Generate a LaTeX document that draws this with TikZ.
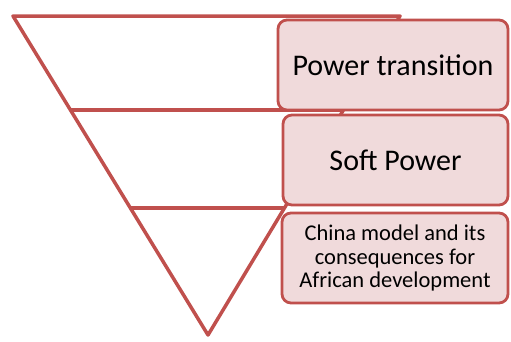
\documentclass[tikz,border=0pt]{standalone}
\usepackage{fontspec}
\setmainfont{Carlito}
\usetikzlibrary{calc}
\definecolor{tierred}{RGB}{192,80,77}
\definecolor{tierfill}{RGB}{240,218,219}
\begin{document}
\begin{tikzpicture}[x=1pt,y=-1pt,inner sep=0pt,outer sep=0pt,line join=round,
tierbox/.style={draw=tierred,fill=tierfill,rounded corners=9pt,line width=2.8pt,align=center,anchor=north west}]
\useasboundingbox (0,0) rectangle (511,341);
% inverted triangle
\coordinate (tl) at (13,16);
\coordinate (tr) at (400,16);
\coordinate (apex) at (208,335);
\draw[tierred,line width=3.5pt] (tl) -- (tr) -- (apex) -- cycle;
\draw[tierred,line width=3.5pt] ($(tl)!0.295!(apex)$) -- ($(tr)!0.295!(apex)$);
\draw[tierred,line width=3.5pt] ($(tl)!0.602!(apex)$) -- ($(tr)!0.602!(apex)$);
% labels
\node[tierbox,minimum width=230pt,minimum height=90pt,font=\fontsize{30}{33}\selectfont] (power) at (278,20) {Power transition};
\node[tierbox,minimum width=225pt,minimum height=90pt,font=\fontsize{30}{33}\selectfont] (soft) at (283,115) {Soft Power};
\node[tierbox,minimum width=226pt,minimum height=90pt,font=\fontsize{22.5}{23.5}\selectfont] (china) at (282,213) {China model and its\\consequences for\\African development};
\end{tikzpicture}
\end{document}
